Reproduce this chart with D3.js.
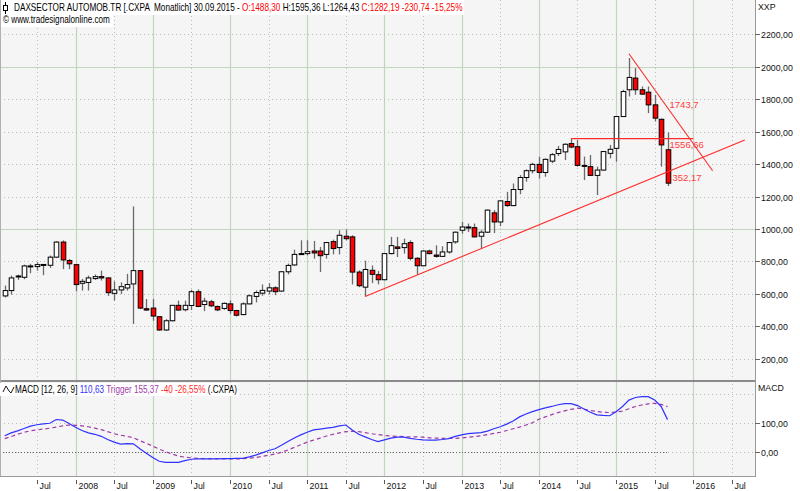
<!DOCTYPE html>
<html>
<head>
<meta charset="utf-8">
<script src="https://cdn.jsdelivr.net/npm/d3@7"></script>
<style>
  body { margin: 0; background: #fff; }
  svg { display: block; font-family: "Liberation Sans", Arial, sans-serif; }
</style>
</head>
<body>
<div id="container"></div>
<script>
// monthly bars, Feb 2007 .. Sep 2015
const months = d3.timeMonth.range(new Date(2007, 1, 1), new Date(2015, 9, 1));

const open = [587, 620, 705, 702, 770, 768, 780, 776, 826, 919, 805, 780,
  665, 670, 694, 706, 698, 603, 624, 636, 661, 743, 508, 512,
  459, 377, 434, 529, 502, 528, 613, 534, 551, 522, 510, 538,
  497, 472, 538, 584, 604, 617, 637, 617, 736, 778, 848, 848,
  864, 864, 843, 922, 885, 955, 951, 734, 641, 745, 718, 687,
  848, 889, 885, 916, 819, 773, 864, 839, 831, 858, 920, 992,
  1012, 1008, 955, 980, 1099, 1043, 1169, 1144, 1243, 1317, 1359, 1398,
  1348, 1418, 1465, 1475, 1526, 1507, 1392, 1384, 1330, 1363, 1466, 1497,
  1693, 1858, 1930, 1858, 1843, 1765, 1676, 1488.30];
const high = [651, 712, 718, 780, 785, 795, 782, 836, 925, 929, 815, 785,
  692, 712, 719, 743, 702, 677, 671, 723, 1139, 747, 568, 568,
  459, 444, 529, 558, 558, 625, 627, 576, 563, 528, 547, 559,
  501, 547, 596, 621, 658, 666, 646, 740, 786, 872, 930, 930,
  926, 889, 920, 934, 992, 996, 961, 745, 804, 775, 740, 852,
  951, 951, 940, 930, 827, 868, 872, 899, 893, 920, 984, 1043,
  1033, 1033, 992, 1120, 1116, 1177, 1229, 1280, 1332, 1367, 1408, 1445,
  1435, 1468, 1512, 1528, 1556.66, 1549, 1446, 1456, 1384, 1480, 1518, 1695,
  1858, 2054, 1992, 1878, 1878, 1827, 1680, 1595.36];
const low = [578, 595, 686, 690, 727, 743, 715, 760, 822, 752, 752, 616,
  620, 620, 686, 682, 587, 558, 599, 620, 414, 506, 496, 434,
  372, 372, 430, 496, 492, 500, 518, 493, 518, 493, 501, 477,
  460, 468, 534, 547, 588, 596, 592, 613, 720, 773, 843, 837,
  817, 734, 817, 843, 843, 930, 658, 641, 584, 666, 658, 683,
  843, 827, 848, 806, 720, 769, 843, 823, 827, 848, 909, 971,
  982, 947, 878, 975, 975, 1017, 1136, 1140, 1214, 1291, 1342, 1311,
  1322, 1406, 1450, 1425, 1497, 1384, 1301, 1326, 1209, 1360, 1435, 1415,
  1690, 1817, 1827, 1827, 1714, 1662, 1384, 1264.43];
const close = [620, 698, 710, 772, 772, 780, 781, 826, 919, 809, 785, 657,
  677, 698, 706, 698, 607, 624, 644, 657, 743, 512, 500, 463,
  377, 434, 529, 500, 529, 613, 522, 555, 526, 501, 541, 497,
  468, 538, 588, 608, 621, 637, 613, 736, 775, 843, 847, 860,
  852, 835, 916, 879, 961, 940, 734, 650, 750, 720, 687, 848,
  897, 880, 909, 819, 773, 864, 848, 831, 858, 916, 980, 1012,
  1008, 951, 980, 1116, 1043, 1173, 1144, 1243, 1317, 1359, 1398, 1348,
  1429, 1458, 1490, 1522, 1505, 1392, 1386, 1330, 1363, 1477, 1491, 1693,
  1847, 1934, 1858, 1831, 1765, 1683, 1518, 1282.19];

// MACD (12, 26, 9) and trigger, same months
const macd = [55, 65, 72, 80, 88, 93, 96, 98, 111, 109, 97, 84,
  73, 65, 60, 53, 42, 33, 26, 28, 27, 10, -5, -20,
  -33, -37, -37, -37, -31, -26, -25, -25, -25, -25, -24, -24,
  -23, -23, -18, -12, -4, 4, 10, 22, 35, 47, 58, 67,
  75, 78, 81, 84, 89, 92, 75, 60, 51, 42, 35, 41,
  47, 50, 50, 46, 43, 41, 40, 40, 42, 45, 53, 58,
  62, 64, 66, 71, 79, 86, 95, 106, 120, 130, 138, 145,
  151, 156, 162, 166, 166, 159, 147, 136, 127, 125, 124, 138,
  156, 178, 187, 190, 190, 178, 156, 110.63];
const trigger = [45, 52, 60, 67, 72, 75, 78, 81, 85, 89, 92, 91,
  89, 86, 81, 76, 69, 62, 57, 53, 48, 38, 29, 19,
  9, 0, -8, -15, -19, -21, -23, -24, -24, -24, -25, -25,
  -25, -24, -22, -20, -16, -12, -8, -2, 6, 15, 24, 33,
  40, 47, 54, 60, 65, 69, 70, 69, 66, 62, 59, 56,
  54, 53, 52, 51, 51, 50, 48, 47, 46, 46, 46, 47,
  50, 52, 55, 59, 63, 67, 73, 79, 85, 92, 100, 112,
  120, 128, 135, 141, 146, 150, 147, 142, 139, 136, 135, 137,
  140, 148, 156, 161, 165, 167, 163, 155.37];

// trend lines drawn on the chart
const trendLines = [
  { from: "2011-10", v1: 584, to: "2016-09", v2: 1548 },
  { from: "2015-03", v1: 2080, to: "2016-04", v2: 1359 },
  { from: "2014-06", v1: 1556.66, to: "2016-01", v2: 1556.66 }
];
const trendLabels = [
  { text: "1743,7", value: 1743.7, dy: 0 },
  { text: "1556,66", value: 1556.66, dy: 9 },
  { text: "352,17", value: 1352.17, dy: 9, dx: 3 }
];

const priceTicks = [200, 400, 600, 800, 1000, 1200, 1400, 1600, 1800, 2000, 2200];
const macdTicks = [0, 100, 200];
const xTickDates = ["2007-07", "2008-01", "2008-07", "2009-01", "2009-07", "2010-01", "2010-07",
  "2011-01", "2011-07", "2012-01", "2012-07", "2013-01", "2013-07", "2014-01", "2014-07",
  "2015-01", "2015-07", "2016-01", "2016-07"];
const xTickLabels = ["Jul", "2008", "Jul", "2009", "Jul", "2010", "Jul", "2011", "Jul", "2012",
  "Jul", "2013", "Jul", "2014", "Jul", "2015", "Jul", "2016", "Jul"];

// layout
const W = 800, H = 491;
const plotRight = 755;
const priceBottom = 381;
const macdBottom = 476;

const parseMonth = d3.timeParse("%Y-%m");
const monthIndex = d => (d.getFullYear() - 2007) * 12 + d.getMonth();

const x = d3.scaleLinear().domain([12, 108]).range([75.5, 693.3]);
const xd = d => x(monthIndex(d));
const y = d3.scaleLinear().domain([200, 2200]).range([358.7, 34.3]);
const ym = d3.scaleLinear().domain([0, 100]).range([451.7, 422.7]);

const fmt = d3.format(".2f");
const deNum = v => fmt(v).replace(".", ",");

const svg = d3.select('#container')
  .append('svg')
  .attr('width', W)
  .attr('height', H);

svg.append('rect').attr('width', W).attr('height', H).attr('fill', '#fff');
svg.append('rect')
  .attr('x', 0).attr('y', 0)
  .attr('width', plotRight).attr('height', macdBottom)
  .attr('fill', '#f5f5f5');

const defs = svg.append('defs');
defs.append('clipPath').attr('id', 'clipPrice')
  .append('rect').attr('x', 0).attr('y', 0).attr('width', plotRight).attr('height', priceBottom);
defs.append('clipPath').attr('id', 'clipMacd')
  .append('rect').attr('x', 0).attr('y', priceBottom).attr('width', plotRight).attr('height', macdBottom - priceBottom);

const green = '#c2d5bf';
const dotted = '#bdbdbd';

// vertical grid
const grid = svg.append('g');
xTickDates.forEach((s, i) => {
  const xx = Math.round(xd(parseMonth(s))) + 0.5;
  const isYear = xTickLabels[i] !== "Jul";
  grid.append('line')
    .attr('x1', xx).attr('x2', xx).attr('y1', 0).attr('y2', macdBottom)
    .attr('stroke', isYear ? green : dotted)
    .attr('stroke-width', isYear ? 1.2 : 1)
    .attr('stroke-dasharray', isYear ? null : '1,3');
});

// horizontal grid, price panel
priceTicks.forEach(v => {
  const yy = Math.round(y(v)) + 0.5;
  const solid = v === 1000 || v === 2000;
  grid.append('line')
    .attr('x1', 0).attr('x2', plotRight).attr('y1', yy).attr('y2', yy)
    .attr('stroke', solid ? green : dotted)
    .attr('stroke-width', solid ? 1.2 : 1)
    .attr('stroke-dasharray', solid ? null : '1,3');
});

// horizontal grid, macd panel
macdTicks.forEach(v => {
  const yy = Math.round(ym(v)) + 0.5;
  grid.append('line')
    .attr('x1', 0).attr('x2', plotRight).attr('y1', yy).attr('y2', yy)
    .attr('stroke', dotted)
    .attr('stroke-dasharray', '1,3');
});
grid.append('line')
  .attr('x1', 0).attr('x2', xd(months[months.length - 1]))
  .attr('y1', Math.round(ym(0)) + 0.5).attr('y2', Math.round(ym(0)) + 0.5)
  .attr('stroke', '#666').attr('stroke-dasharray', '1,2');

// header boxes
svg.append('rect').attr('x', 0).attr('y', 0).attr('width', 464).attr('height', 15).attr('fill', '#fff');
svg.append('rect').attr('x', 0).attr('y', 15).attr('width', 113).attr('height', 12).attr('fill', '#fff');

// candles
const price = svg.append('g').attr('clip-path', 'url(#clipPrice)');
const bw = 4.6;
const bars = months.map((d, i) => ({ d, o: open[i], h: high[i], l: low[i], c: close[i] }));

price.selectAll('line.wick')
  .data(bars)
  .join('line')
  .attr('class', 'wick')
  .attr('x1', b => Math.round(xd(b.d)) + 0.5)
  .attr('x2', b => Math.round(xd(b.d)) + 0.5)
  .attr('y1', b => y(b.h))
  .attr('y2', b => y(b.l))
  .attr('stroke', '#6a6a6a')
  .attr('stroke-width', 1.3);

price.selectAll('rect.body')
  .data(bars)
  .join('rect')
  .attr('class', 'body')
  .attr('x', b => Math.round(xd(b.d)) + 0.5 - bw / 2)
  .attr('y', b => y(Math.max(b.o, b.c)))
  .attr('width', bw)
  .attr('height', b => Math.max(1, y(Math.min(b.o, b.c)) - y(Math.max(b.o, b.c))))
  .attr('fill', b => b.c < b.o ? '#ff0000' : '#ffffff')
  .attr('stroke', '#000')
  .attr('stroke-width', 1);

// trend lines
price.selectAll('line.trend')
  .data(trendLines)
  .join('line')
  .attr('class', 'trend')
  .attr('x1', t => xd(parseMonth(t.from)))
  .attr('y1', t => y(t.v1))
  .attr('x2', t => xd(parseMonth(t.to)))
  .attr('y2', t => y(t.v2))
  .attr('stroke', '#ff2a2a')
  .attr('stroke-width', 1.1);

const lastX = xd(months[months.length - 1]);
price.selectAll('text.tl')
  .data(trendLabels)
  .join('text')
  .attr('class', 'tl')
  .attr('x', t => lastX + 2 + (t.dx || 0))
  .attr('y', t => y(t.value) + t.dy)
  .attr('fill', '#ff3c3c')
  .attr('font-size', 9.5)
  .text(t => t.text);

// macd lines
const macdG = svg.append('g').attr('clip-path', 'url(#clipMacd)');
const lineM = d3.line().x((v, i) => xd(months[i])).y(v => ym(v));
macdG.append('path')
  .datum(trigger)
  .attr('d', lineM)
  .attr('fill', 'none')
  .attr('stroke', '#a03ca8')
  .attr('stroke-width', 1.2)
  .attr('stroke-dasharray', '4,3');
macdG.append('path')
  .datum(macd)
  .attr('d', lineM)
  .attr('fill', 'none')
  .attr('stroke', '#3232ff')
  .attr('stroke-width', 1.2);

// frame
svg.append('line').attr('x1', 0).attr('x2', plotRight).attr('y1', priceBottom).attr('y2', priceBottom)
  .attr('stroke', '#8a8a8a').attr('stroke-width', 2);
svg.append('line').attr('x1', 0).attr('x2', plotRight).attr('y1', macdBottom + 0.5).attr('y2', macdBottom + 0.5)
  .attr('stroke', '#9a9a9a');
svg.append('line').attr('x1', plotRight + 0.5).attr('x2', plotRight + 0.5).attr('y1', 0).attr('y2', macdBottom + 1)
  .attr('stroke', '#9a9a9a');
svg.append('line').attr('x1', 0.5).attr('x2', 0.5).attr('y1', 0).attr('y2', macdBottom)
  .attr('stroke', '#b0b0b0');

// right axes
const axisG = svg.append('g').attr('font-size', 8.8).attr('fill', '#111');
priceTicks.forEach(v => {
  const yy = Math.round(y(v)) + 0.5;
  axisG.append('line').attr('x1', plotRight).attr('x2', plotRight + 5).attr('y1', yy).attr('y2', yy).attr('stroke', '#666');
  axisG.append('text').attr('x', plotRight + 6).attr('y', yy + 3.2).text(deNum(v));
});
[0, 100].forEach(v => {
  const yy = Math.round(ym(v)) + 0.5;
  axisG.append('line').attr('x1', plotRight).attr('x2', plotRight + 5).attr('y1', yy).attr('y2', yy).attr('stroke', '#666');
  axisG.append('text').attr('x', plotRight + 6).attr('y', yy + 3.2).text(deNum(v));
});
axisG.append('text').attr('x', plotRight + 3).attr('y', 10).text('XXP');
axisG.append('text').attr('x', plotRight + 3).attr('y', 391).text('MACD');

// bottom axis
xTickDates.forEach((s, i) => {
  const xx = Math.round(xd(parseMonth(s))) + 0.5;
  axisG.append('line').attr('x1', xx).attr('x2', xx).attr('y1', 480).attr('y2', 484).attr('stroke', '#555');
  axisG.append('text').attr('x', xx + 2).attr('y', 489).text(xTickLabels[i]);
});

// squeeze a text element horizontally to a target width
function fitText(g, x0, y0, width) {
  const t = g.select('text');
  const w = t.node().getComputedTextLength();
  g.attr('transform', `translate(${x0},${y0}) scale(${width / w},1)`);
}

// header
const head = svg.append('g');
const headText = head.append('text').attr('font-size', 10).attr('x', 0).attr('y', 0);
[["DAXSECTOR AUTOMOB.TR [.CXPA  Monatlich] 30.09.2015 - ", '#000'],
 ["O:1488,30 ", '#ff0000'],
 ["H:1595,36 L:1264,43 ", '#000'],
 ["C:1282,19 -230,74 -15,25%", '#ff0000']].forEach(([s, c]) => {
  headText.append('tspan').attr('fill', c).text(s);
});
headText.attr('xml:space', 'preserve');
fitText(head, 14, 10.5, 449);

// candle icon
svg.append('line').attr('x1', 5.5).attr('x2', 5.5).attr('y1', 2).attr('y2', 14).attr('stroke', '#000');
svg.append('rect').attr('x', 3.5).attr('y', 5.5).attr('width', 4).attr('height', 5).attr('fill', '#fff').attr('stroke', '#000');

const site = svg.append('g');
site.append('text').attr('font-size', 10).attr('fill', '#000').text('\u00a9 www.tradesignalonline.com');
fitText(site, 3, 23, 107);

// macd legend
svg.append('rect').attr('x', 0).attr('y', 383).attr('width', 238).attr('height', 13).attr('fill', '#fff');
svg.append('path')
  .attr('d', 'M3,392 L6,386 L9,391 L11,393 L14,387')
  .attr('fill', 'none').attr('stroke', '#000').attr('stroke-width', 0.9);
const leg = svg.append('g');
const legText = leg.append('text').attr('font-size', 10).attr('xml:space', 'preserve');
[["MACD [12, 26, 9] ", '#000'],
 ["110,63 ", '#3232ff'],
 ["Trigger 155,37 ", '#a03ca8'],
 ["-40 -26,55% ", '#ff2a2a'],
 ["(.CXPA)", '#000']].forEach(([s, c]) => {
  legText.append('tspan').attr('fill', c).text(s);
});
fitText(leg, 15, 393, 222);
</script>
</body>
</html>
